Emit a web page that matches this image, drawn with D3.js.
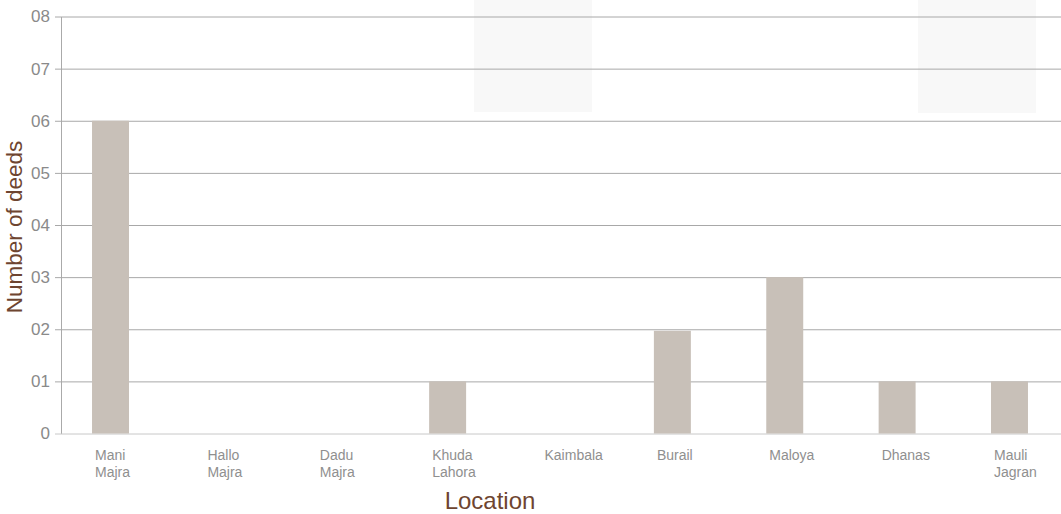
<!DOCTYPE html>
<html>
<head>
<meta charset="utf-8">
<script src="https://cdn.jsdelivr.net/npm/d3@7"></script>
<style>
  html, body { margin: 0; padding: 0; background: #fff; }
  svg { display: block; font-family: "Liberation Sans", Arial, sans-serif; }
</style>
</head>
<body>
<svg id="chart" width="1061" height="514"></svg>
<script>
// Deeds registered per location
const locations = ["Mani Majra", "Hallo Majra", "Dadu Majra", "Khuda Lahora", "Kaimbala",
                   "Burail", "Maloya", "Dhanas", "Mauli Jagran"];
const deeds = [6, 0, 0, 1, 0, 1.97, 3, 1, 1];
const yTicks = [0, 1, 2, 3, 4, 5, 6, 7, 8];
const yTickLabels = ["0", "01", "02", "03", "04", "05", "06", "07", "08"];
const yTitle = "Number of deeds";
const xTitle = "Location";

const W = 1061, H = 514;
const plot = { left: 61, right: 1061, top: 16.5, bottom: 433.5 };

const svg = d3.select("#chart");

const x = d3.scaleBand()
  .domain(locations)
  .range([70, 1050])
  .paddingInner(0.671)
  .paddingOuter(0.196);

const y = d3.scaleLinear()
  .domain([0, 8])
  .range([plot.bottom, plot.top]);

// faint background panels at the top of the plot
svg.append("g").selectAll("rect")
  .data([[474, 592, 112], [918, 1036, 113]])
  .join("rect")
  .attr("x", d => d[0]).attr("y", 0)
  .attr("width", d => d[1] - d[0]).attr("height", d => d[2])
  .attr("fill", "#f8f8f8");

// horizontal gridlines with tick labels
const yAxis = d3.axisLeft(y)
  .tickValues(yTicks)
  .tickFormat((d, i) => yTickLabels[i])
  .tickSize(-(plot.right - plot.left))
  .tickSizeOuter(0)
  .tickPadding(11);

const gy = svg.append("g")
  .attr("transform", `translate(${plot.left},0)`)
  .call(yAxis);
gy.select(".domain").attr("stroke", "#aaa");
gy.selectAll(".tick line")
  .attr("stroke", d => d === 0 ? "#c8c8c8" : "#a8a8a8")
  .attr("x1", -6);
gy.selectAll(".tick text")
  .attr("fill", "#8a8a8a")
  .attr("font-size", 17)
  .attr("font-family", "Liberation Sans, Arial, sans-serif");

// bars
svg.append("g").selectAll("rect")
  .data(locations.map((c, i) => ({ c, v: deeds[i] })).filter(d => d.v > 0))
  .join("rect")
  .attr("x", d => x(d.c))
  .attr("width", x.bandwidth())
  .attr("y", d => y(d.v))
  .attr("height", d => y(0) - y(d.v))
  .attr("fill", "#c8c0b8");

// category labels, wrapped to two lines
const lab = svg.append("g").selectAll("text")
  .data(locations)
  .join("text")
  .attr("x", d => x(d) + 3)
  .attr("y", 460)
  .attr("fill", "#8f8f8f")
  .attr("font-size", 14);
lab.each(function (d) {
  const words = d.split(" ");
  const t = d3.select(this);
  words.forEach((w, i) => {
    t.append("tspan")
      .attr("x", x(d) + 3)
      .attr("dy", i === 0 ? 0 : 17)
      .text(w);
  });
});

// axis titles
svg.append("text")
  .attr("transform", `translate(22,227) rotate(-90)`)
  .attr("text-anchor", "middle")
  .attr("fill", "#6e4530")
  .attr("font-size", 22.5)
  .text(yTitle);

svg.append("text")
  .attr("x", 490)
  .attr("y", 509)
  .attr("text-anchor", "middle")
  .attr("fill", "#6e4530")
  .attr("font-size", 24)
  .text(xTitle);
</script>
</body>
</html>
